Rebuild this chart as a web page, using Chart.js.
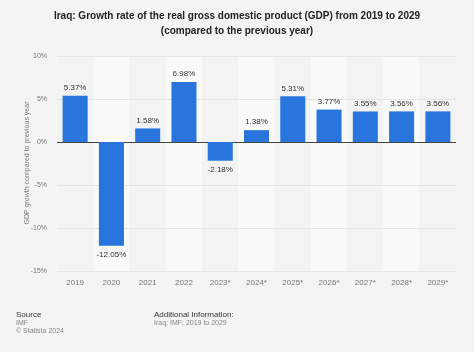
<!DOCTYPE html>
<html>
<head>
<meta charset="utf-8">
<script src="https://cdn.jsdelivr.net/npm/chart.js@4"></script>
<style>
html,body{margin:0;padding:0;background:#f4f4f4;}
#wrap{width:474px;height:352px;position:relative;}
</style>
</head>
<body>
<div id="wrap"><canvas id="myChart" width="474" height="352"></canvas></div>
<script>
// values
const years = ["2019","2020","2021","2022","2023*","2024*","2025*","2026*","2027*","2028*","2029*"]
const growth = [5.37,-12.05,1.58,6.98,-2.18,1.38,5.31,3.77,3.55,3.56,3.56]
const yTicks = [10,5,0,-5,-10,-15]

const titleLines = ["Iraq: Growth rate of the real gross domestic product (GDP) from 2019 to 2029","(compared to the previous year)"]
const yTitle = "GDP growth compared to previous year"

const FONT = "Arial, 'Liberation Sans', sans-serif"

// stripes behind the columns
const bands = {
    id: "bands",
    beforeDatasetsDraw(chart){
        const c = chart.ctx, x = chart.scales.x, a = chart.chartArea
        const w = x.width / years.length
        c.save()
        for (let i = 0; i < years.length; i++){
            const cx = x.getPixelForValue(i)
            c.fillStyle = i % 2 == 0 ? "#f3f3f3" : "#fafafa"
            c.fillRect(cx - w/2, a.top, w, a.bottom - a.top)
        }
        // grid lines on top of stripes
        const y = chart.scales.y
        for (const t of yTicks){
            const py = Math.round(y.getPixelForValue(t)) + 0.5
            c.strokeStyle = t == 0 ? "#444" : "#e4e4e4"
            c.lineWidth = t == 0 ? 1.2 : 1
            c.beginPath(); c.moveTo(a.left, py); c.lineTo(a.right, py); c.stroke()
        }
        c.restore()
    }
}

// value labels, title and footer
const texts = {
    id: "texts",
    afterDatasetsDraw(chart){
        const c = chart.ctx
        const meta = chart.getDatasetMeta(0)
        c.save()
        c.font = "8px " + FONT
        c.fillStyle = "#333"
        c.textAlign = "center"
        meta.data.forEach((bar, i) => {
            const v = growth[i]
            const txt = v.toFixed(2) + "%"
            if (v >= 0){ c.textBaseline = "bottom"; c.fillText(txt, bar.x, bar.y - 4) }
            else { c.textBaseline = "top"; c.fillText(txt, bar.x, bar.y + 5) }
        })
        c.restore()
    },
    afterDraw(chart){
        const c = chart.ctx
        c.save()
        c.fillStyle = "#222"
        c.textAlign = "center"
        c.textBaseline = "middle"
        c.font = "bold 10px " + FONT
        c.fillText(titleLines[0], 237, 16)
        c.fillText(titleLines[1], 237, 31)

        c.save()
        c.translate(27, 163)
        c.rotate(-Math.PI/2)
        c.font = "7px " + FONT
        c.fillStyle = "#777"
        c.fillText(yTitle, 0, 0)
        c.restore()

        c.textAlign = "left"
        c.font = "8px " + FONT
        c.fillStyle = "#333"
        c.fillText("Source", 16, 315)
        c.fillText("Additional Information:", 154, 315)
        c.font = "7px " + FONT
        c.fillStyle = "#888"
        c.fillText("IMF", 16, 323)
        c.fillText("\u00a9 Statista 2024", 16, 331)
        c.fillText("Iraq; IMF; 2019 to 2029", 154, 323)
        c.restore()
    }
}

var ctx = document.getElementById('myChart').getContext('2d')
var myChart = new Chart(ctx, {
    type: 'bar',
    data: {
        labels: years,
        datasets: [{
            data: growth,
            backgroundColor: '#2876dd',
            categoryPercentage: 1,
            barPercentage: 0.69
        }]
    },
    options: {
        responsive: false,
        animation: false,
        layout: { padding: { left: 0, right: 18, top: 56, bottom: 60 } },
        plugins: { legend: { display: false }, tooltip: { enabled: false } },
        scales: {
            x: {
                grid: { display: false, drawTicks: false },
                border: { display: false },
                ticks: { color: '#777', font: { size: 8, family: FONT }, padding: 7, maxRotation: 0, autoSkip: false },
                afterFit(s){ s.height = 21 }
            },
            y: {
                min: -15, max: 10,
                grid: { display: false, drawTicks: false },
                border: { display: false },
                ticks: {
                    stepSize: 5, color: '#777', padding: 10,
                    font: { size: 7, family: FONT },
                    callback: v => v + '%'
                },
                afterFit(s){ s.width = 57 }
            }
        }
    },
    plugins: [bands, texts]
})
</script>
</body>
</html>
